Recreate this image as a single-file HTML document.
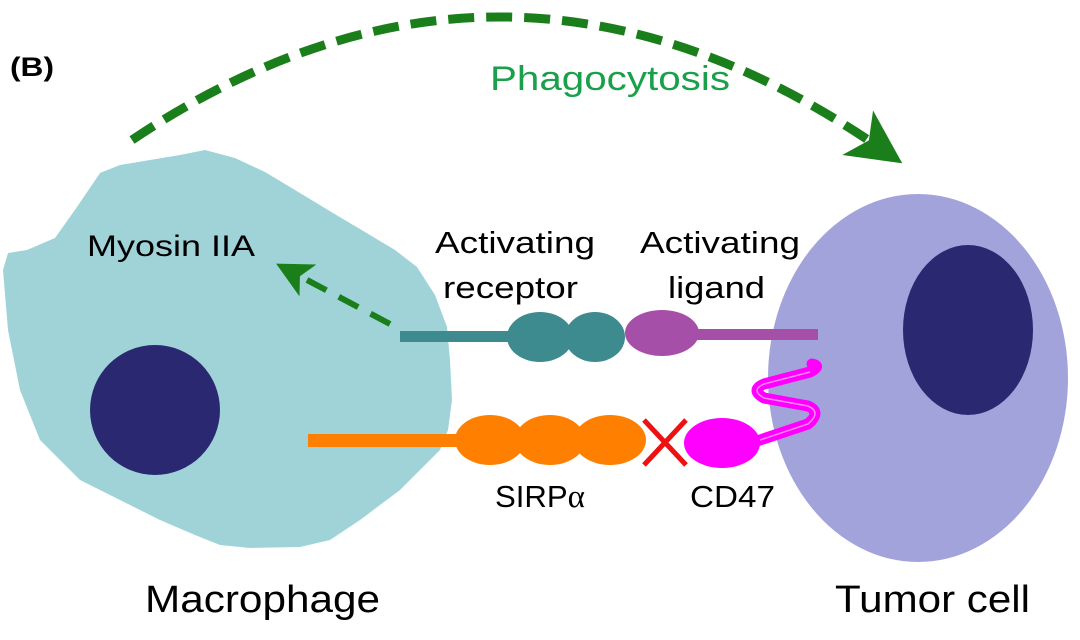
<!DOCTYPE html>
<html><head><meta charset="utf-8"><style>
html,body{margin:0;padding:0;background:#fff;}
svg{display:block;font-family:"Liberation Sans",sans-serif;}
</style></head><body>
<svg width="1080" height="640" viewBox="0 0 1080 640" xmlns="http://www.w3.org/2000/svg">
<defs>
<marker id="ah" markerWidth="6" markerHeight="6" refX="3" refY="3" orient="auto" markerUnits="strokeWidth">
<path d="M0,0 L6,3 L0,6 L1.5,3 Z" fill="#1a7f1a"/></marker>
</defs>
<text x="10" y="76" font-size="27" font-weight="bold" fill="#000" textLength="44" lengthAdjust="spacingAndGlyphs">(B)</text>
<!-- macrophage -->
<path d="M205,150 L235,158 L265,172 L295,190 L333,213 L370,235 L395,250 L417,267 L435,295 L447,327 L450,360 L452,400 L448,430 L440,450 L420,470 L400,490 L380,505 L360,520 L330,540 L300,547 L250,548 L220,545 L195,535 L160,520 L120,500 L80,480 L40,440 L20,390 L8,330 L3,270 L8,253 L27,250 L55,238 L77,207 L100,173 L120,165 L150,160 L180,155 Z" fill="#9fd3d8"/>
<circle cx="155" cy="410" r="65" fill="#2a2870"/>
<!-- tumor -->
<ellipse cx="918" cy="378" rx="150" ry="184" fill="#a3a3dc"/>
<ellipse cx="968" cy="330" rx="65" ry="85" fill="#2a2870"/>
<!-- phagocytosis arc -->
<path d="M132,140 Q505,-110 880,148" fill="none" stroke="#1a7f1a" stroke-width="9" stroke-dasharray="26,12" marker-end="url(#ah)"/>
<text x="490" y="90" font-size="34" fill="#1aa04a" textLength="240" lengthAdjust="spacingAndGlyphs">Phagocytosis</text>
<!-- myosin arrow -->
<path d="M390,324 L292,272" fill="none" stroke="#1a7f1a" stroke-width="6" stroke-dasharray="22,14" marker-end="url(#ah)"/>
<text x="87" y="256" font-size="30" fill="#000" textLength="168" lengthAdjust="spacingAndGlyphs">Myosin IIA</text>
<!-- receptor -->
<rect x="400" y="331" width="125" height="11" fill="#3d8a8f"/>
<ellipse cx="540" cy="337" rx="33" ry="25" fill="#3d8a8f"/>
<ellipse cx="595" cy="337" rx="30" ry="25" fill="#3d8a8f"/>
<!-- ligand -->
<rect x="690" y="329" width="128" height="11" fill="#a64fa8"/>
<ellipse cx="662" cy="333" rx="37" ry="23" fill="#a64fa8"/>
<text x="435" y="253" font-size="31" fill="#000" textLength="160" lengthAdjust="spacingAndGlyphs">Activating</text>
<text x="443" y="298" font-size="31" fill="#000" textLength="135" lengthAdjust="spacingAndGlyphs">receptor</text>
<text x="640" y="253" font-size="31" fill="#000" textLength="160" lengthAdjust="spacingAndGlyphs">Activating</text>
<text x="668" y="298" font-size="31" fill="#000" textLength="97" lengthAdjust="spacingAndGlyphs">ligand</text>
<!-- SIRPa -->
<rect x="308" y="434" width="160" height="13" fill="#ff8000"/>
<ellipse cx="490" cy="440" rx="35" ry="25" fill="#ff8000"/>
<ellipse cx="550" cy="440" rx="35" ry="25" fill="#ff8000"/>
<ellipse cx="610" cy="440" rx="36" ry="25" fill="#ff8000"/>
<path d="M644,420 L686,465 M686,420 L644,465" stroke="#ee1111" stroke-width="5"/>
<!-- CD47 -->
<path d="M748,444 L808,424 Q822,412 808,406 L764,398 Q750,390 764,384 L810,372 Q822,366 812,364" fill="none" stroke="#ff00ff" stroke-width="11" stroke-linejoin="round" stroke-linecap="round"/>
<path d="M760,440 L808,424 Q822,412 808,406 L764,398 Q750,390 764,384 L810,372" fill="none" stroke="#ff88ff" stroke-width="1.5"/>
<ellipse cx="722" cy="443" rx="38" ry="25" fill="#ff00ff"/>
<text x="495" y="507" font-size="31" fill="#000" textLength="90" lengthAdjust="spacingAndGlyphs">SIRP<tspan font-family="Liberation Serif, serif" font-size="33">α</tspan></text>
<text x="690" y="507" font-size="31" fill="#000" textLength="85" lengthAdjust="spacingAndGlyphs">CD47</text>
<text x="145" y="612" font-size="38" fill="#000" textLength="235" lengthAdjust="spacingAndGlyphs">Macrophage</text>
<text x="835" y="612" font-size="38" fill="#000" textLength="195" lengthAdjust="spacingAndGlyphs">Tumor cell</text>
</svg>
</body></html>
